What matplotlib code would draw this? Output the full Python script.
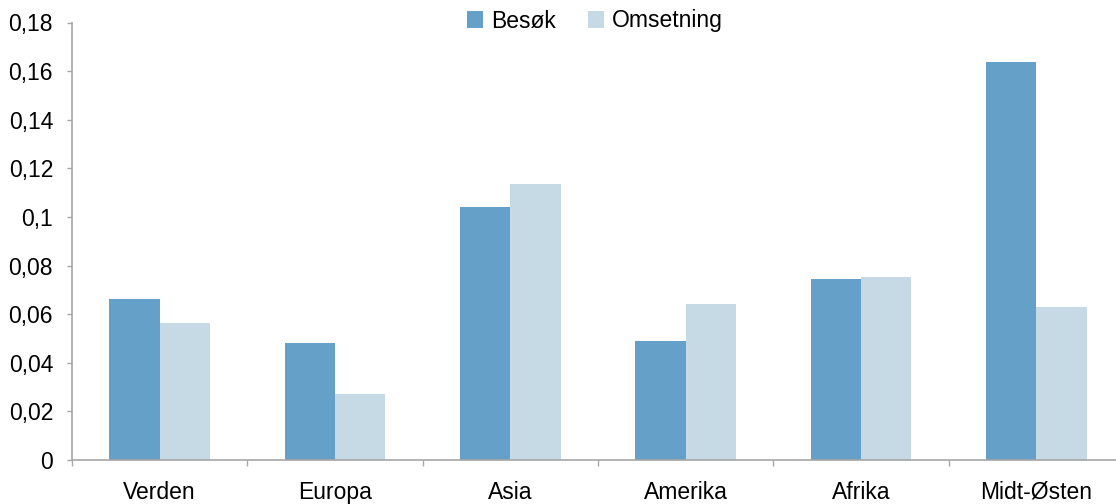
import matplotlib
matplotlib.use("Agg")
import matplotlib.pyplot as plt
import numpy as np

plt.rcParams['font.family'] = ['Liberation Sans', 'DejaVu Sans']

categories = ["Verden", "Europa", "Asia", "Amerika", "Afrika", "Midt-Østen"]
besok = [0.0662, 0.0481, 0.1040, 0.0489, 0.0744, 0.1636]
omsetning = [0.0563, 0.0271, 0.1134, 0.0641, 0.0752, 0.0629]
series_names = ["Besøk", "Omsetning"]
y_ticks = [0, 0.02, 0.04, 0.06, 0.08, 0.10, 0.12, 0.14, 0.16, 0.18]
y_tick_labels = ["0", "0,02", "0,04", "0,06", "0,08", "0,1", "0,12", "0,14", "0,16", "0,18"]

W, H = 1116, 504
fig = plt.figure(figsize=(W / 100, H / 100), dpi=100)
left, right, top, bottom = 72, 1124, 22.5, 460
ax = fig.add_axes([left / W, (H - bottom) / H, (right - left) / W, (bottom - top) / H])

x = np.arange(len(categories))
bw = 0.287
ax.bar(x - bw / 2, besok, width=bw, color="#65A0C8", label=series_names[0], zorder=2)
ax.bar(x + bw / 2, omsetning, width=bw, color="#C5DAE5", label=series_names[1], zorder=2)

ax.set_xlim(-0.5, len(categories) - 0.5)
ax.set_ylim(0, 0.18)

spine_col = "#A6A6A6"
for s in ["top", "right"]:
    ax.spines[s].set_visible(False)
for s in ["left", "bottom"]:
    ax.spines[s].set_color(spine_col)
    ax.spines[s].set_linewidth(1.2)

fs = 16.5
ax.set_yticks(y_ticks)
ax.set_yticklabels(y_tick_labels)
ax.tick_params(axis="y", direction="out", length=3.6, width=1, color=spine_col,
               labelsize=fs, pad=10, labelcolor="#000000")

# category labels centred, ticks at the category boundaries
ax.set_xticks(x)
ax.set_xticklabels(categories)
ax.tick_params(axis="x", which="major", length=0, labelsize=fs, pad=15)
ax.set_xticks(np.arange(len(categories) + 1) - 0.5, minor=True)
ax.tick_params(axis="x", which="minor", direction="out", length=4.5, width=1, color=spine_col)

leg = fig.legend(loc="center", bbox_to_anchor=(595 / W, 1 - 21 / H), ncol=2, frameon=False,
                 fontsize=fs, handlelength=0.7, handleheight=0.7, handletextpad=0.35,
                 columnspacing=1.4)

fig.savefig("out.png", dpi=100)
